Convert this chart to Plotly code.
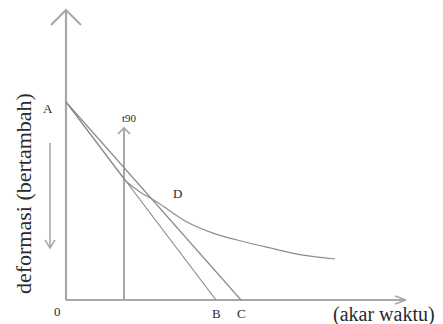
import plotly.graph_objects as go

# ---- data (x = akar waktu units, y = deformasi units) ----
point_A = (0.0, 10.0)
point_B = (6.0, 0.0)
point_C = (7.0, 0.0)
t90_x = 2.32
t90_top = 8.69
curve_x = [0.0, 1.2, 2.32, 2.44, 2.96, 3.64, 4.84, 5.88, 6.84, 8.16, 9.48, 10.76]
curve_y = [10.0, 8.0, 6.13, 5.96, 5.45, 4.95, 3.94, 3.38, 3.03, 2.63, 2.27, 2.07]
y_axis_top = 14.65
x_axis_end = 13.6
down_arrow_x = -0.64
down_arrow_y = [7.93, 2.63]
labels = ["A", "B", "C", "D", "0", "t90"]

# ---- pixel scale used to size arrow heads ----
PX_X = 25.0   # px per x unit
PX_Y = 19.8   # px per y unit

AX_COL = "#a8a8a8"
LN_COL = "#8c8c8c"
TXT = "#2a2a2a"
SERIF = "Liberation Serif"

fig = go.Figure()

def seg(xs, ys, color=LN_COL, width=1.2, shape="linear"):
    fig.add_trace(go.Scatter(x=xs, y=ys, mode="lines",
                             line=dict(color=color, width=width, shape=shape,
                                       smoothing=0.9),
                             hoverinfo="skip", showlegend=False))

def head(tx, ty, direction, half_px, back_px, color, width):
    if direction == "up":
        xs = [tx - half_px / PX_X, tx, tx + half_px / PX_X]
        ys = [ty - back_px / PX_Y, ty, ty - back_px / PX_Y]
    elif direction == "down":
        xs = [tx - half_px / PX_X, tx, tx + half_px / PX_X]
        ys = [ty + back_px / PX_Y, ty, ty + back_px / PX_Y]
    else:  # right
        xs = [tx - back_px / PX_X, tx, tx - back_px / PX_X]
        ys = [ty + half_px / PX_Y, ty, ty - half_px / PX_Y]
    seg(xs, ys, color=color, width=width)

# axes
seg([0, 0], [0, y_axis_top], color=AX_COL, width=2.2)
head(0, y_axis_top, "up", 15, 15, AX_COL, 2.0)
seg([0, x_axis_end], [0, 0], color=AX_COL, width=2.2)
head(x_axis_end, 0, "right", 4, 11, AX_COL, 1.6)

# down arrow beside the y axis
seg([down_arrow_x, down_arrow_x], down_arrow_y, color=AX_COL, width=1.6)
head(down_arrow_x, down_arrow_y[1], "down", 5, 8, AX_COL, 1.6)

# t90 vertical
seg([t90_x, t90_x], [0, t90_top], color=AX_COL, width=2.0)
head(t90_x, t90_top, "up", 6, 6, AX_COL, 1.6)

# lines AB and AC
seg([point_A[0], point_B[0]], [point_A[1], point_B[1]])
seg([point_A[0], point_C[0]], [point_A[1], point_C[1]])

# consolidation curve
seg(curve_x, curve_y, shape="spline")

def lab(text, x, y, xs=0, ys=0, size=13):
    fig.add_annotation(x=x, y=y, text=text, showarrow=False, xshift=xs, yshift=ys,
                       font=dict(family=SERIF, size=size, color=TXT))

lab(labels[0], point_A[0], point_A[1], xs=-18, ys=-6)
lab(labels[1], point_B[0], point_B[1], xs=0, ys=-13)
lab(labels[2], point_C[0], point_C[1], xs=0, ys=-13)
lab(labels[3], 4.44, 5.4)
lab(labels[4], 0, 0, xs=-9, ys=-11)
lab(labels[5], t90_x, t90_top, xs=5, ys=10, size=11)

fig.add_annotation(x=12.7, y=0, text="(akar waktu)", showarrow=False, yshift=-14,
                   font=dict(family=SERIF, size=20, color=TXT))
fig.add_annotation(x=-1.72, y=5.35, text="deformasi (bertambah)", showarrow=False,
                   textangle=-90, font=dict(family=SERIF, size=22, color=TXT))

fig.update_layout(
    width=443, height=324, autosize=False,
    margin=dict(l=0, r=0, t=0, b=0),
    paper_bgcolor="white", plot_bgcolor="white",
    xaxis=dict(range=[-66 / PX_X, (443 - 66) / PX_X], visible=False, fixedrange=True),
    yaxis=dict(range=[-24 / PX_Y, 300 / PX_Y], visible=False, fixedrange=True),
)

fig.write_html("out.html")
